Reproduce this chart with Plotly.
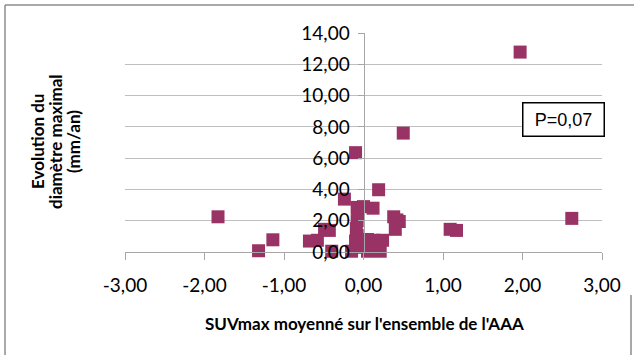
import plotly.graph_objects as go

# Mean SUVmax over the whole AAA vs. yearly growth of the maximal diameter
suv_mean = [1.97, 0.50, -0.10, 0.19, -0.24, -1.83, 2.62, 1.09, 1.17, -1.14,
            -1.32, -0.68, -0.58, -0.49, -0.43, -0.40, -0.15, -0.08, -0.07, -0.08,
            -0.09, -0.08, -0.10, -0.05, 0.00, 0.12, 0.05, 0.21, 0.13, 0.24,
            0.38, 0.40, 0.45, 0.42, 0.05]
diam_growth = [12.78, 7.60, 6.35, 3.98, 3.38, 2.25, 2.15, 1.45, 1.38, 0.78,
               0.08, 0.70, 0.75, 1.45, 1.38, 0.05, 0.05, 2.85, 2.45, 2.00,
               1.50, 1.05, 0.70, 0.30, 2.90, 2.80, 0.05, 0.05, 0.75, 0.75,
               2.25, 1.45, 1.95, 2.05, 0.80]

x_ticks = [-3, -2, -1, 0, 1, 2, 3]
x_tick_labels = ["-3,00", "-2,00", "-1,00", "0,00", "1,00", "2,00", "3,00"]
y_ticks = [0, 2, 4, 6, 8, 10, 12, 14]
y_tick_labels = ["0,00", "2,00", "4,00", "6,00", "8,00", "10,00", "12,00", "14,00"]

p_value_text = "P=0,07"
x_title = "SUVmax moyenné sur l'ensemble de l'AAA"
y_title_lines = ["Evolution du", "diamètre maximal", "(mm/an)"]

W, H = 634, 355
L, R, T, B = 125, 32, 33, 103
pw, ph = W - L - R, H - T - B


def px_x(p):
    return (p - L) / pw


def px_y(p):
    return (H - B - p) / ph


fig = go.Figure()
fig.add_trace(go.Scatter(
    x=suv_mean, y=diam_growth, mode="markers",
    marker=dict(symbol="square", size=13, color="#993366", line=dict(width=0)),
    cliponaxis=False, showlegend=False,
))

tick_font = dict(family="Lato, sans-serif", size=19, color="#000000")
title_font = dict(family="Lato, sans-serif", size=17, color="#000000", weight="bold")

annotations = [
    dict(text=x_title, xref="paper", yref="paper", x=px_x(364), y=px_y(323),
         showarrow=False, xanchor="center", yanchor="middle", font=title_font),
    dict(text=p_value_text, xref="paper", yref="paper", x=px_x(563.5), y=px_y(119.5),
         showarrow=False, xanchor="center", yanchor="middle",
         width=80, height=32, borderpad=0, bgcolor="white",
         bordercolor="#000000", borderwidth=1.5,
         font=dict(family="Liberation Sans, Arial, sans-serif", size=18, color="#000000")),
]
# rotated y title, one annotation per line for tight line spacing
for i, line in enumerate(y_title_lines):
    annotations.append(dict(
        text=line, xref="paper", yref="paper", x=px_x(37 + 18 * i), y=px_y(142),
        showarrow=False, xanchor="center", yanchor="middle", textangle=-90,
        font=title_font,
    ))

fig.update_layout(
    width=W, height=H,
    margin=dict(l=L, r=R, t=T, b=B),
    paper_bgcolor="white", plot_bgcolor="white",
    xaxis=dict(
        range=[-3, 3], tickmode="array", tickvals=x_ticks, ticktext=x_tick_labels,
        showgrid=False, zeroline=False, showline=True, linecolor="#a6a6a6",
        linewidth=1, ticks="outside", ticklen=7, tickcolor="#a6a6a6",
        tickfont=tick_font, ticklabelstandoff=9,
    ),
    yaxis=dict(
        range=[0, 14], tickmode="array", tickvals=y_ticks, ticktext=y_tick_labels,
        showgrid=True, gridcolor="#bfbfbf", gridwidth=1, zeroline=False,
        showline=True, linecolor="#a6a6a6", linewidth=1,
        ticks="outside", ticklen=6, tickcolor="#a6a6a6",
        anchor="free", position=0.5, tickfont=tick_font, ticklabelstandoff=4,
    ),
    annotations=annotations,
    shapes=[
        dict(type="line", xref="paper", yref="paper", x0=px_x(5), x1=px_x(5),
             y0=px_y(5), y1=px_y(360), line=dict(color="#8c8c8c", width=1.5)),
        dict(type="line", xref="paper", yref="paper", x0=px_x(5), x1=px_x(640),
             y0=px_y(5), y1=px_y(5), line=dict(color="#8c8c8c", width=1.5)),
        dict(type="line", xref="paper", yref="paper", x0=px_x(631), x1=px_x(631),
             y0=px_y(295), y1=px_y(360), line=dict(color="#8c8c8c", width=1.5)),
    ],
)

fig.write_html("out.html")
